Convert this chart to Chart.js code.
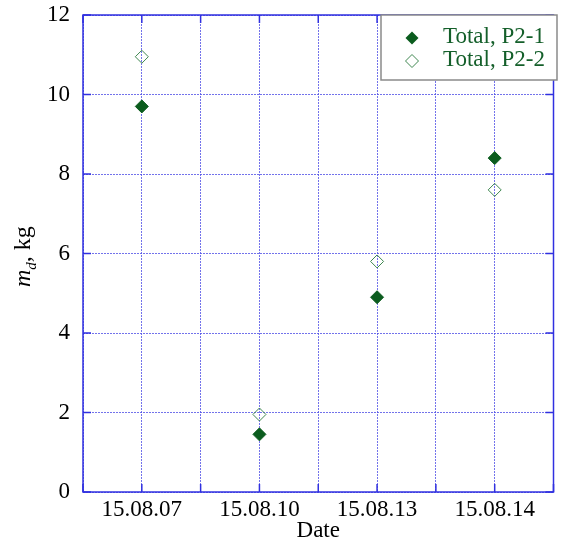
<!DOCTYPE html>
<html>
<head>
    <title>md by date</title>
    <style>
        body { margin: 0px; background-color: #ffffff; }
        #wrap { width: 561px; height: 545px; }
    </style>
    <script src="https://cdn.jsdelivr.net/npm/chart.js"></script>
</head>
<body>
    <div id="wrap">
        <canvas id="myChart" width="561" height="545"></canvas>
    </div>
<script>
// dates on the x axis
const dates = ['15.08.07', '15.08.10', '15.08.13', '15.08.14'];
// dry mass, kg
const totalP21 = [9.7, 1.45, 4.9, 8.4];
const totalP22 = [10.95, 1.95, 5.8, 7.6];
const seriesLabels = ['Total, P2-1', 'Total, P2-2'];
const yTicks = [0, 2, 4, 6, 8, 10, 12];

const serif = "'Liberation Serif', 'Times New Roman', serif";
const axisBlue = '#3030e0';
const gridBlue = 'rgba(80, 80, 230, 0.8)';
const darkGreen = '#0b5c1e';

// blue frame round the plot plus small inward ticks on every side
const framePlugin = {
    id: 'frame',
    afterDraw(chart) {
        const ctx = chart.ctx;
        const a = chart.chartArea;
        const xs = chart.scales.x;
        const ys = chart.scales.y;
        ctx.save();
        ctx.strokeStyle = axisBlue;
        ctx.lineWidth = 1.5;
        ctx.strokeRect(a.left, a.top, a.right - a.left, a.bottom - a.top);
        ctx.beginPath();
        for (let v = -0.5; v <= 3.5; v += 0.5) {
            const px = xs.getPixelForValue(v);
            ctx.moveTo(px, a.bottom); ctx.lineTo(px, a.bottom - 8);
            ctx.moveTo(px, a.top); ctx.lineTo(px, a.top + 8);
        }
        yTicks.forEach(v => {
            const py = ys.getPixelForValue(v);
            ctx.moveTo(a.left, py); ctx.lineTo(a.left + 8, py);
            ctx.moveTo(a.right, py); ctx.lineTo(a.right - 8, py);
        });
        ctx.stroke();

        // y axis title: m_d, kg
        ctx.fillStyle = '#000';
        ctx.translate(30, 258);
        ctx.rotate(-Math.PI / 2);
        ctx.textBaseline = 'alphabetic';
        ctx.textAlign = 'left';
        const full = 58;
        let x = -full / 2;
        ctx.font = 'italic 24px ' + serif;
        ctx.fillText('m', x, 0);
        x += ctx.measureText('m').width;
        ctx.font = 'italic 15px ' + serif;
        ctx.fillText('d', x, 6);
        x += ctx.measureText('d').width;
        ctx.font = '24px ' + serif;
        ctx.fillText(', kg', x, 0);
        ctx.restore();

        // legend box
        ctx.save();
        ctx.fillStyle = '#ffffff';
        ctx.fillRect(381, 15, 176, 65);
        ctx.strokeStyle = '#8a8a8a';
        ctx.lineWidth = 1.5;
        ctx.strokeRect(381, 15, 176, 65);
        ctx.font = '23px ' + serif;
        ctx.textBaseline = 'middle';
        const rows = [38, 61];
        chart.data.datasets.forEach((ds, i) => {
            const cy = rows[i];
            ctx.beginPath();
            ctx.moveTo(412, cy - 6.5);
            ctx.lineTo(418.5, cy);
            ctx.lineTo(412, cy + 6.5);
            ctx.lineTo(405.5, cy);
            ctx.closePath();
            if (i === 0) {
                ctx.fillStyle = ds.backgroundColor;
                ctx.fill();
            } else {
                ctx.strokeStyle = ds.borderColor;
                ctx.lineWidth = 1;
                ctx.stroke();
            }
            ctx.fillStyle = '#145f2a';
            ctx.fillText(ds.label, 443, cy - 1);
        });
        ctx.restore();
    }
};

const chart = new Chart(document.getElementById('myChart').getContext('2d'), {
    type: 'scatter',
    data: {
        datasets: [{
            label: seriesLabels[0],
            data: totalP21.map((v, i) => ({ x: i, y: v })),
            pointStyle: 'rectRot',
            pointRadius: 6.5,
            backgroundColor: darkGreen,
            borderColor: darkGreen,
            borderWidth: 1
        }, {
            label: seriesLabels[1],
            data: totalP22.map((v, i) => ({ x: i, y: v })),
            pointStyle: 'rectRot',
            pointRadius: 6.5,
            backgroundColor: 'rgba(255,255,255,0)',
            borderColor: '#3f8750',
            borderWidth: 1
        }]
    },
    options: {
        responsive: false,
        animation: false,
        devicePixelRatio: 1,
        layout: { padding: { top: 15, right: 4, left: 0, bottom: 0 } },
        plugins: {
            legend: { display: false },
            tooltip: { enabled: false }
        },
        scales: {
            x: {
                type: 'linear',
                min: -0.5,
                max: 3.5,
                afterBuildTicks: (scale) => {
                    const t = [];
                    for (let v = -0.5; v <= 3.5; v += 0.5) t.push({ value: v });
                    scale.ticks = t;
                },
                afterFit: (scale) => {
                    scale.height = 53;
                    scale.paddingLeft = 0;
                    scale.paddingRight = 0;
                },
                grid: {
                    color: gridBlue,
                    lineWidth: 1,
                    drawTicks: false
                },
                border: { display: false, dash: [2, 1] },
                ticks: {
                    padding: 4,
                    autoSkip: false,
                    maxRotation: 0,
                    color: '#000',
                    font: { family: serif, size: 23 },
                    callback: (v) => Number.isInteger(v) ? dates[v] : ''
                },
                title: {
                    display: true,
                    text: 'Date',
                    color: '#000',
                    padding: 0,
                    font: { family: serif, size: 23 }
                }
            },
            y: {
                min: 0,
                max: 12,
                afterBuildTicks: (scale) => { scale.ticks = yTicks.map(v => ({ value: v })); },
                afterFit: (scale) => {
                    scale.width = 83;
                    scale.paddingTop = 0;
                    scale.paddingBottom = 0;
                },
                grid: {
                    color: gridBlue,
                    lineWidth: 1,
                    drawTicks: false
                },
                border: { display: false, dash: [2, 1] },
                ticks: {
                    padding: 13,
                    color: '#000',
                    font: { family: serif, size: 23 }
                }
            }
        }
    },
    plugins: [framePlugin]
});
</script>
</body>
</html>
